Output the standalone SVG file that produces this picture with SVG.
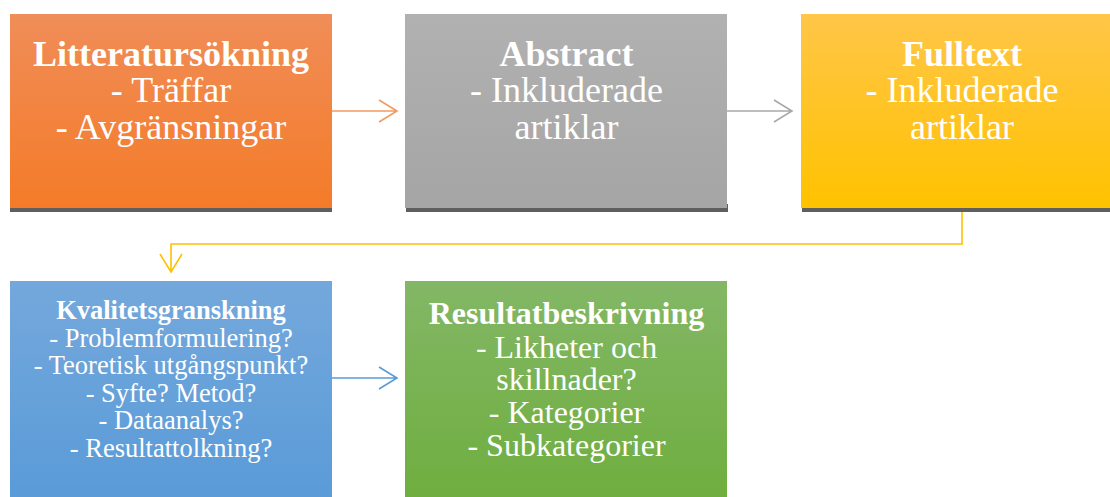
<svg xmlns="http://www.w3.org/2000/svg" width="1110" height="497" viewBox="0 0 1110 497">
<defs>
<linearGradient id="gO" x1="0" y1="0" x2="0" y2="1"><stop offset="0" stop-color="#f08d58"/><stop offset="1" stop-color="#f47b28"/></linearGradient>
<linearGradient id="gG" x1="0" y1="0" x2="0" y2="1"><stop offset="0" stop-color="#b1b1b1"/><stop offset="1" stop-color="#a5a5a5"/></linearGradient>
<linearGradient id="gY" x1="0" y1="0" x2="0" y2="1"><stop offset="0" stop-color="#ffc648"/><stop offset="1" stop-color="#ffc200"/></linearGradient>
<linearGradient id="gB" x1="0" y1="0" x2="0" y2="1"><stop offset="0" stop-color="#74a8dc"/><stop offset="1" stop-color="#5a9bd8"/></linearGradient>
<linearGradient id="gN" x1="0" y1="0" x2="0" y2="1"><stop offset="0" stop-color="#83b766"/><stop offset="1" stop-color="#6fae3f"/></linearGradient>
</defs>
<style>
.t{font-family:"Liberation Serif","Times New Roman",serif;fill:#ffffff;text-anchor:middle}
.big{font-size:36px}
.mid{font-size:32px}
.sm{font-size:26.5px}
.b{font-weight:bold}
.sh{fill:#5f5f5f}
.ln{fill:none;stroke-width:1.6}
</style>
<g id="node-litteratursokning">
<rect class="sh" x="10" y="204" width="322" height="8"/>
<rect x="10" y="14" width="322" height="194" fill="url(#gO)"/>
<text class="t big b" x="171" y="66">Litteratursökning</text>
<text class="t big" x="171" y="102">- Träffar</text>
<text class="t big" x="171" y="139">- Avgränsningar</text>
</g>
<g id="node-abstract">
<rect class="sh" x="406" y="204" width="322" height="8"/>
<rect x="405" y="14" width="322" height="194" fill="url(#gG)"/>
<text class="t big b" x="566.5" y="66">Abstract</text>
<text class="t big" x="566.5" y="102">- Inkluderade</text>
<text class="t big" x="566.5" y="139">artiklar</text>
</g>
<g id="node-fulltext">
<rect class="sh" x="802" y="204" width="322" height="8"/>
<rect x="801" y="14" width="322" height="194" fill="url(#gY)"/>
<text class="t big b" x="962" y="66">Fulltext</text>
<text class="t big" x="962" y="102">- Inkluderade</text>
<text class="t big" x="962" y="139">artiklar</text>
</g>
<g id="node-kvalitetsgranskning">
<rect x="10" y="281" width="322" height="216" fill="url(#gB)"/>
<text class="t sm b" x="171" y="319">Kvalitetsgranskning</text>
<text class="t sm" x="171" y="346.5">- Problemformulering?</text>
<text class="t sm" x="171" y="374">- Teoretisk utgångspunkt?</text>
<text class="t sm" x="171" y="401.5">- Syfte? Metod?</text>
<text class="t sm" x="171" y="429">- Dataanalys?</text>
<text class="t sm" x="171" y="456.5">- Resultattolkning?</text>
</g>
<g id="node-resultatbeskrivning">
<rect x="405" y="281" width="322" height="216" fill="url(#gN)"/>
<text class="t mid b" x="566.5" y="324">Resultatbeskrivning</text>
<text class="t mid" x="566.5" y="357.5">- Likheter och</text>
<text class="t mid" x="566.5" y="390">skillnader?</text>
<text class="t mid" x="566.5" y="423">- Kategorier</text>
<text class="t mid" x="566.5" y="456">- Subkategorier</text>
</g>
<g id="connectors">
<path class="ln" stroke="#f29a60" d="M332 111H397M379 100L397 111L379 122"/>
<path class="ln" stroke="#a9a9a9" d="M727 111H792M774 100L792 111L774 122"/>
<path class="ln" stroke="#ffc000" d="M962 212V244H171V272M160 254L171 272L182 254"/>
<path class="ln" stroke="#5b9bd5" d="M332 378H397M379 367L397 378L379 389"/>
</g>
</svg>
